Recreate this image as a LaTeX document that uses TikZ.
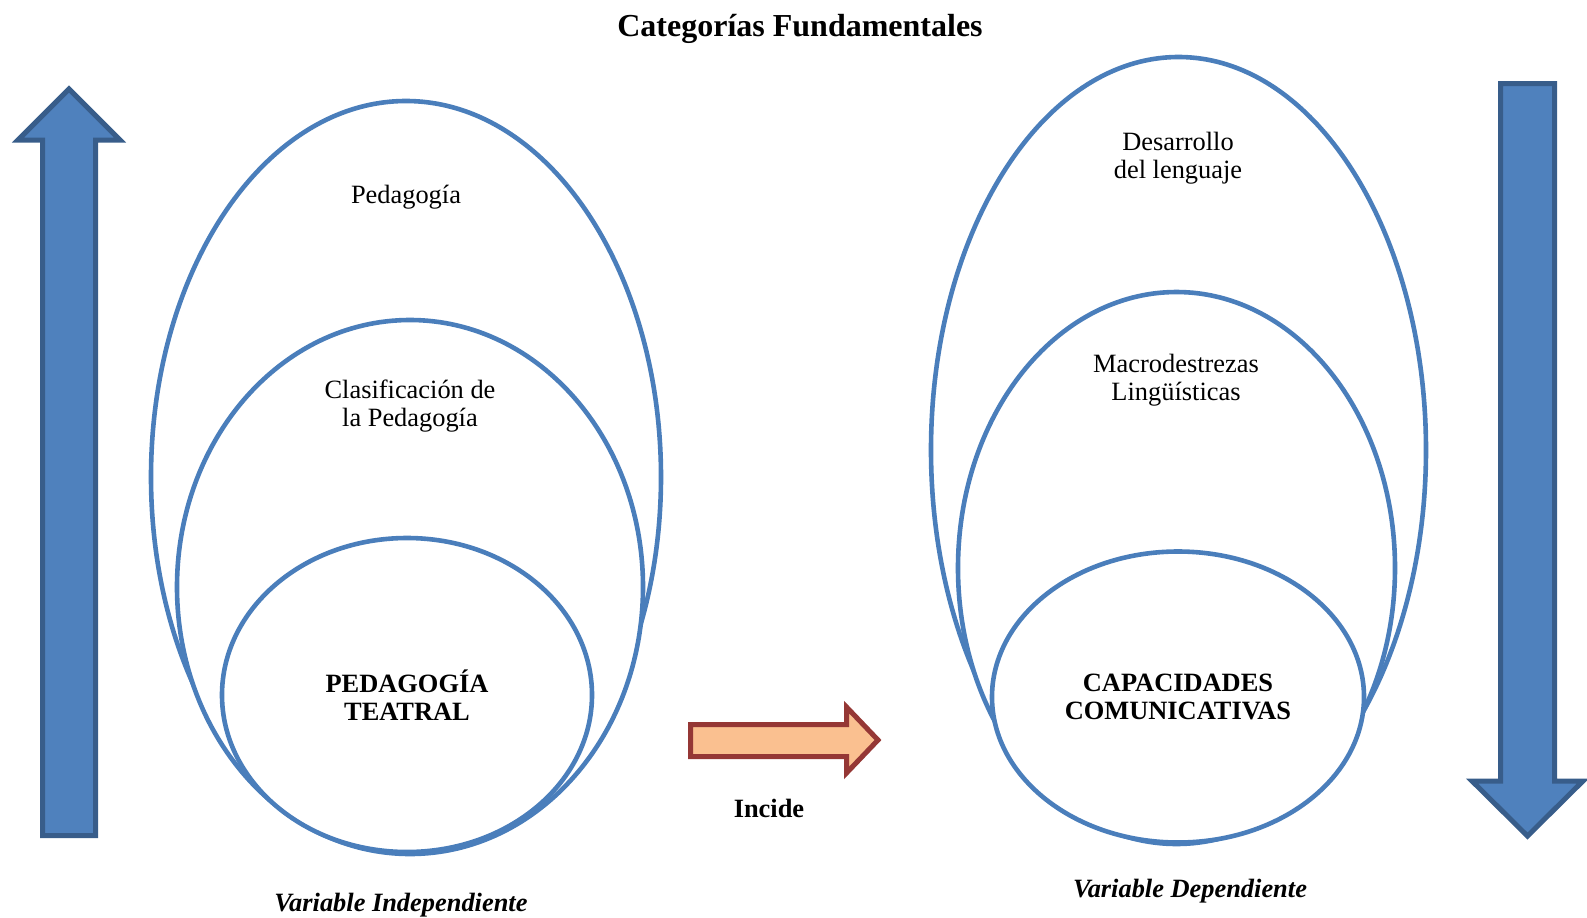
\documentclass[tikz,border=0pt]{standalone}
\usepackage{fontspec}
\setmainfont{Liberation Serif}
\usetikzlibrary{shapes.geometric, positioning}
\definecolor{ringblue}{HTML}{4A7EBB}
\definecolor{barblue}{HTML}{4F81BD}
\definecolor{bardark}{HTML}{385D8A}
\definecolor{peach}{HTML}{FAC090}
\definecolor{brick}{HTML}{953735}

\begin{document}
\begin{tikzpicture}[x=0.5pt, y=-0.5pt]

\tikzset{ring/.style = {shape=ellipse, draw=ringblue, line width=2.3pt, fill=white, inner sep=0pt}}
\tikzset{txt/.style = {align=center, font=\fontsize{13.2}{14.2}\selectfont}}
\tikzset{bigarrow/.style = {draw=bardark, fill=barblue, line width=2.5pt}}
\useasboundingbox (0,0) rectangle (1587,917);

\node[txt, font=\bfseries\fontsize{16}{18}\selectfont] (title) at (800,29) {Categorías Fundamentales};

% side arrows
\draw[bigarrow] (42.5,835.5) -- (42.5,140) -- (18,140) -- (69,89) -- (120,140) -- (95.5,140) -- (95.5,835.5) -- cycle;
\draw[bigarrow] (1500.5,83.5) -- (1554.5,83.5) -- (1554.5,781) -- (1583,781) -- (1527.5,836) -- (1472,781) -- (1500.5,781) -- cycle;

% left ellipses
\node[ring, minimum width=255pt, minimum height=376pt] (pedOut) at (406,477) {};
\node[ring, minimum width=233pt, minimum height=267pt] (pedMid) at (410,587) {};
\node[ring, txt, font=\bfseries\fontsize{13.2}{14.2}\selectfont, minimum width=185pt, minimum height=157pt] (pedIn) at (407,695) {PEDAGOGÍA\\TEATRAL};
\node[txt] (ped) at (406,197) {Pedagogía};
\node[txt] (clasif) at (410,406) {Clasificación de\\la Pedagogía};

% right ellipses
\node[ring, minimum width=247.5pt, minimum height=393pt] (capOut) at (1178.5,450) {};
\node[ring, minimum width=218.5pt, minimum height=276pt] (capMid) at (1176.5,568) {};
\node[ring, txt, font=\bfseries\fontsize{13.2}{14.2}\selectfont, minimum width=186pt, minimum height=145.5pt] (capIn) at (1178,697) {CAPACIDADES\\COMUNICATIVAS};
\node[txt] (desarr) at (1178,158) {Desarrollo\\del lenguaje};
\node[txt] (macro) at (1176,380) {Macrodestrezas\\Lingüísticas};

% middle arrow
\draw[draw=brick, fill=peach, line width=2.5pt] (690.5,724.5) -- (846.5,724.5) -- (846.5,707) -- (878,740) -- (846.5,773) -- (846.5,756.5) -- (690.5,756.5) -- cycle;
\node[txt, font=\bfseries\fontsize{13.2}{14.2}\selectfont] (incide) at (769,808) {Incide};

% captions
\node[txt, font=\bfseries\itshape\fontsize{13.2}{14.2}\selectfont] (vi) at (401,905) {Variable Independiente};
\node[txt, font=\bfseries\itshape\fontsize{13.2}{14.2}\selectfont] (vd) at (1190,891) {Variable Dependiente};
\end{tikzpicture}
\end{document}
